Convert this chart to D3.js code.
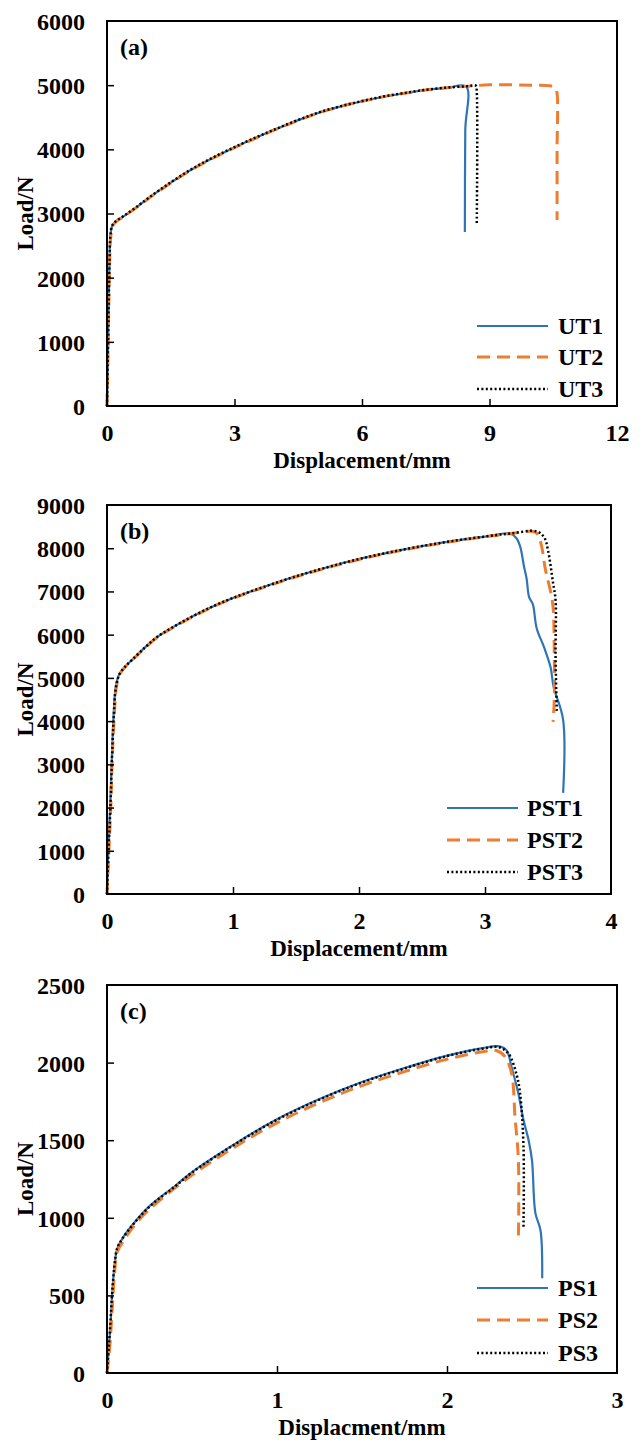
<!DOCTYPE html>
<html>
<head>
<meta charset="utf-8">
<script src="https://cdn.jsdelivr.net/npm/d3@7/dist/d3.min.js"></script>
<style>
  html, body { margin: 0; padding: 0; background: #fff; }
  svg text { font-family: "Liberation Serif", "Times New Roman", serif; font-weight: bold; fill: #000; }
</style>
</head>
<body>
<svg id="chart" width="641" height="1440"></svg>
<script>
// ---------------- DATA ----------------
const panelLabels = ["(a)", "(b)", "(c)"];
const xTitles = ["Displacement/mm", "Displacement/mm", "Displacment/mm"];
const yTitle = "Load/N";

const xTicksA = [0, 3, 6, 9, 12];
const yTicksA = [0, 1000, 2000, 3000, 4000, 5000, 6000];
const xTicksB = [0, 1, 2, 3, 4];
const yTicksB = [0, 1000, 2000, 3000, 4000, 5000, 6000, 7000, 8000, 9000];
const xTicksC = [0, 1, 2, 3];
const yTicksC = [0, 500, 1000, 1500, 2000, 2500];

const seriesNamesA = ["UT1", "UT2", "UT3"];
const seriesNamesB = ["PST1", "PST2", "PST3"];
const seriesNamesC = ["PS1", "PS2", "PS3"];

// [displacement mm, load N]
const ut1 = [[0,0],[0.02,800],[0.04,1600],[0.06,2300],[0.08,2650],[0.12,2800],[0.2,2870],[0.4,2960],[0.7,3100],[1,3250],[1.5,3480],[2,3690],[2.5,3870],[3,4030],[3.5,4180],[4,4320],[4.5,4455],[5,4575],[5.5,4670],[6,4750],[6.5,4820],[7,4875],[7.5,4925],[8,4958],[8.45,4978],[8.43,4300],[8.42,2710]];
const ut2 = [[0,0],[0.02,700],[0.04,1500],[0.06,2200],[0.09,2650],[0.13,2800],[0.2,2865],[0.4,2955],[0.7,3095],[1,3245],[1.5,3475],[2,3685],[2.5,3865],[3,4025],[3.5,4175],[4,4318],[4.5,4452],[5,4572],[5.5,4668],[6,4748],[6.5,4818],[7,4875],[7.5,4925],[8,4960],[8.5,4985],[9,5005],[9.5,5005],[10,5000],[10.42,4990],[10.55,4950],[10.59,4870],[10.59,4000],[10.59,2900]];
const ut3 = [[0,0],[0.02,750],[0.04,1550],[0.06,2250],[0.08,2650],[0.12,2810],[0.2,2875],[0.4,2965],[0.7,3105],[1,3255],[1.5,3485],[2,3695],[2.5,3875],[3,4035],[3.5,4185],[4,4325],[4.5,4458],[5,4578],[5.5,4672],[6,4752],[6.5,4822],[7,4878],[7.5,4928],[8,4962],[8.45,4982],[8.68,4990],[8.7,4900],[8.7,2820]];

const pst1 = [[0,0],[0.01,1000],[0.025,2000],[0.037,3000],[0.05,4000],[0.07,4800],[0.1,5100],[0.15,5280],[0.2,5420],[0.3,5700],[0.4,5950],[0.6,6300],[0.8,6600],[1,6850],[1.25,7110],[1.5,7350],[1.75,7560],[2,7750],[2.25,7910],[2.5,8050],[2.75,8170],[3,8270],[3.2,8340],[3.25,8230],[3.28,8030],[3.31,7570],[3.33,7300],[3.35,6870],[3.38,6700],[3.41,6150],[3.47,5700],[3.52,5250],[3.545,4790],[3.62,4030],[3.62,2340]];
const pst2 = [[0,0],[0.015,1000],[0.03,2000],[0.04,3000],[0.055,4000],[0.075,4800],[0.1,5080],[0.15,5270],[0.2,5410],[0.3,5690],[0.4,5940],[0.6,6290],[0.8,6590],[1,6840],[1.25,7100],[1.5,7340],[1.75,7550],[2,7740],[2.25,7900],[2.5,8040],[2.75,8160],[3,8265],[3.2,8335],[3.4,8370],[3.44,8150],[3.48,7500],[3.52,7000],[3.54,6640],[3.55,5500],[3.55,4500],[3.54,3980]];
const pst3 = [[0,0],[0.012,1000],[0.027,2000],[0.038,3000],[0.052,4000],[0.072,4800],[0.1,5090],[0.15,5280],[0.2,5420],[0.3,5700],[0.4,5950],[0.6,6300],[0.8,6600],[1,6850],[1.25,7110],[1.5,7350],[1.75,7560],[2,7750],[2.25,7910],[2.5,8050],[2.75,8170],[3,8270],[3.2,8340],[3.41,8390],[3.47,8250],[3.5,7950],[3.54,7200],[3.56,6800],[3.56,5500],[3.57,4200]];

const ps1 = [[0,0],[0.01,150],[0.02,300],[0.03,500],[0.045,700],[0.06,800],[0.09,865],[0.15,955],[0.25,1075],[0.4,1205],[0.5,1295],[0.75,1475],[1,1635],[1.25,1765],[1.5,1875],[1.75,1965],[2,2045],[2.2,2092],[2.31,2105],[2.35,2080],[2.38,1970],[2.42,1800],[2.45,1630],[2.48,1500],[2.5,1370],[2.52,1030],[2.55,920],[2.56,610]];
const ps2 = [[0,0],[0.015,150],[0.03,400],[0.045,650],[0.06,780],[0.09,840],[0.15,935],[0.25,1055],[0.5,1275],[0.75,1455],[1,1612],[1.25,1742],[1.5,1852],[1.75,1942],[2,2022],[2.2,2068],[2.29,2078],[2.34,2040],[2.38,1930],[2.4,1650],[2.42,1370],[2.42,857]];
const ps3 = [[0,0],[0.01,160],[0.02,320],[0.03,510],[0.045,705],[0.06,805],[0.09,865],[0.15,952],[0.25,1072],[0.4,1202],[0.5,1292],[0.75,1472],[1,1632],[1.25,1762],[1.5,1872],[1.75,1962],[2,2042],[2.2,2088],[2.3,2100],[2.36,2060],[2.41,1920],[2.43,1800],[2.45,1460],[2.45,940]];

// ---------------- STYLES ----------------
const styles = [
  { color: "#2E75B6", width: 2.2, dash: null },
  { color: "#ED7D31", width: 3, dash: "13,7" },
  { color: "#000000", width: 2.5, dash: "2,2.4" }
];

const panels = [
  { label: panelLabels[0], xTitle: xTitles[0], xDomain: [0, 12], yDomain: [0, 6000], xTicks: xTicksA, yTicks: yTicksA,
    names: seriesNamesA, series: [ut1, ut2, ut3], left: 107, right: 617, top: 21, bottom: 406,
    legend: { x1: 477, x2: 548, tx: 558, dy: [-80, -49, -17] } },
  { label: panelLabels[1], xTitle: xTitles[1], xDomain: [0, 4], yDomain: [0, 9000], xTicks: xTicksB, yTicks: yTicksB,
    names: seriesNamesB, series: [pst1, pst2, pst3], left: 107, right: 611, top: 505, bottom: 894,
    legend: { x1: 447, x2: 518, tx: 527, dy: [-86, -54, -22] } },
  { label: panelLabels[2], xTitle: xTitles[2], xDomain: [0, 3], yDomain: [0, 2500], xTicks: xTicksC, yTicks: yTicksC,
    names: seriesNamesC, series: [ps1, ps2, ps3], left: 107, right: 617, top: 985, bottom: 1373,
    legend: { x1: 477, x2: 548, tx: 558, dy: [-85, -53, -20] } }
];

const svg = d3.select("#chart");
const fs = 24;
const fsTitle = 23;

panels.forEach(p => {
  const x = d3.scaleLinear().domain(p.xDomain).range([p.left, p.right]);
  const y = d3.scaleLinear().domain(p.yDomain).range([p.bottom, p.top]);
  const g = svg.append("g");

  // series
  const line = d3.line().x(d => x(d[0])).y(d => y(d[1])).curve(d3.curveCatmullRom.alpha(0.5));
  p.series.forEach((s, i) => {
    const st = styles[i];
    g.append("path").datum(s).attr("d", line)
      .attr("fill", "none").attr("stroke", st.color).attr("stroke-width", st.width)
      .attr("stroke-dasharray", st.dash).attr("stroke-linejoin", "round");
  });

  // axes with inner ticks
  const xAxis = d3.axisBottom(x).tickValues(p.xTicks).tickSizeInner(-7).tickSizeOuter(0).tickFormat(d3.format("d"));
  const yAxis = d3.axisLeft(y).tickValues(p.yTicks).tickSizeInner(-7).tickSizeOuter(0).tickFormat(d3.format("d"));
  const gx = g.append("g").attr("transform", `translate(0,${p.bottom})`).call(xAxis);
  const gy = g.append("g").attr("transform", `translate(${p.left},0)`).call(yAxis);
  [gx, gy].forEach(a => {
    a.select(".domain").remove();
    a.selectAll(".tick line").attr("stroke", "#000").attr("stroke-width", 1.5);
    a.selectAll(".tick text").style("font-size", fs + "px").attr("fill", "#000");
  });
  gx.selectAll(".tick text").attr("dy", "0.35em").attr("y", 27);
  gy.selectAll(".tick text").attr("dy", "0.35em").attr("x", -22);
  gx.selectAll(".tick line").filter(d => d === p.xDomain[0] || d === p.xDomain[1]).remove();
  gy.selectAll(".tick line").filter(d => d === p.yDomain[0] || d === p.yDomain[1]).remove();

  // box
  g.append("rect").attr("x", p.left).attr("y", p.top)
    .attr("width", p.right - p.left).attr("height", p.bottom - p.top)
    .attr("fill", "none").attr("stroke", "#000").attr("stroke-width", 2);

  // panel label
  g.append("text").attr("x", p.left + 13).attr("y", p.top + 26).attr("dy", "0.35em")
    .style("font-size", fs + "px").text(p.label);

  // axis titles
  g.append("text").attr("x", (p.left + p.right) / 2).attr("y", p.bottom + 54).attr("dy", "0.35em")
    .attr("text-anchor", "middle").style("font-size", fsTitle + "px").text(p.xTitle);
  g.append("text").attr("transform", `translate(25,${(p.top + p.bottom) / 2}) rotate(-90)`)
    .attr("dy", "0.35em").attr("text-anchor", "middle").style("font-size", fsTitle + "px").text(yTitle);

  // legend
  p.names.forEach((n, i) => {
    const st = styles[i];
    const ly = p.bottom + p.legend.dy[i];
    g.append("line").attr("x1", p.legend.x1).attr("x2", p.legend.x2).attr("y1", ly).attr("y2", ly)
      .attr("stroke", st.color).attr("stroke-width", st.width).attr("stroke-dasharray", st.dash);
    g.append("text").attr("x", p.legend.tx).attr("y", ly).attr("dy", "0.35em")
      .style("font-size", fs + "px").text(n);
  });
});
</script>
</body>
</html>
